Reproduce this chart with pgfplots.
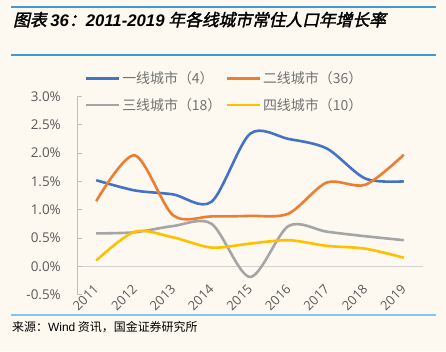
\documentclass[border=0pt]{standalone}
\usepackage{fontspec}
\usepackage{pgfplots}
\pgfplotsset{compat=1.18}
\setmainfont{Open Sans}
\newfontfamily\cjk{Noto Sans CJK SC}
\newfontfamily\cjkbi{Noto Sans CJK SC}[FakeSlant=0.22,FakeBold=2]
\newfontfamily\lib{Liberation Sans}
\definecolor{bg}{RGB}{253,249,240}
\definecolor{c1}{RGB}{68,114,196}
\definecolor{c2}{RGB}{237,125,49}
\definecolor{c3}{RGB}{165,165,165}
\definecolor{c4}{RGB}{255,192,0}
\definecolor{rulec}{RGB}{60,155,210}
\definecolor{rulel}{RGB}{130,200,235}
\definecolor{tickc}{RGB}{89,89,89}
\begin{document}
\begin{tikzpicture}[x=1bp,y=1bp]
\fill[bg] (0,0) rectangle (446,351);
\useasboundingbox (0,0) rectangle (446,351);
\draw[rulec, line width=1.2bp] (11,344) -- (436,344);
\draw[rulec, line width=1.2bp] (11,296) -- (436,296);
\draw[rulel, line width=1.5bp] (11,36) -- (436,36);
\node[anchor=base west, inner sep=0] at (13,325) {\fontsize{16.8}{19}\selectfont\cjkbi 图表 {\lib\bfseries\itshape 36}：{\lib\bfseries\itshape 2011-2019} 年各线城市常住人口年增长率};
\node[anchor=base west, inner sep=0] at (12,20) {\fontsize{12}{14}\selectfont\cjk 来源：{\lib Wind} 资讯，国金证券研究所};
\begin{axis}[
  scale only axis, width=346bp, height=198bp,
  at={(77bp,56.5bp)}, anchor=south west,
  xmin=-0.5, xmax=8.5, ymin=-0.5, ymax=3,
  axis lines*=left,
  x axis line style={draw=none},
  y axis line style={draw=black!25, line width=0.8bp},
  xtick={0,...,8},
  xticklabels={2011,2012,2013,2014,2015,2016,2017,2018,2019},
  major x tick style={draw=none},
  ytick={-0.5,0,...,3},
  yticklabel={\pgfmathprintnumber[fixed,fixed zerofill,precision=1]{\tick}\%},
  /pgf/number format/assume math mode=true,
  tick align=inside, major tick length=5bp,
  major y tick style={draw=black!25, line width=0.8bp},
  ticklabel style={font=\fontsize{13.5}{16}\selectfont, text=tickc, inner sep=0pt},
  yticklabel style={xshift=-16bp},
  xticklabel style={font=\fontsize{13}{15}\selectfont, yshift=7.5bp, rotate=45, anchor=east},
  extra y ticks={0}, extra y tick labels={},
  extra y tick style={grid=major, major grid style={draw=black!18, line width=1bp}},
  legend columns=2,
  legend cell align=left,
  legend image code/.code={\draw[#1, line width=2.6bp] (0bp,0bp) -- (33bp,0bp);},
  legend style={draw=none, fill=none, inner sep=0pt,
    at={(axis description cs:0.023,1.134)}, anchor=north west,
    font=\cjk\fontsize{14}{16}\selectfont, text=tickc!85,
    nodes={inner sep=1.5bp},
    column sep=0pt, row sep=10bp,
    /tikz/every even column/.append style={column sep=3bp}},
  every axis plot/.append style={line width=2.6bp, smooth, tension=0.5, mark=none},
]
\addplot[c1] coordinates {(0,1.52) (1,1.34) (2,1.27) (3,1.14) (4,2.34) (5,2.25) (6,2.08) (7,1.55) (8,1.50)};
\addlegendentry{一线城市（4）}
\addplot[c2] coordinates {(0,1.15) (1,1.96) (2,0.90) (3,0.88) (4,0.89) (5,0.93) (6,1.48) (7,1.44) (8,1.97)};
\addlegendentry{二线城市（36）}
\addplot[c3] coordinates {(0,0.58) (1,0.60) (2,0.71) (3,0.75) (4,-0.19) (5,0.71) (6,0.61) (7,0.53) (8,0.46)};
\addlegendentry{三线城市（18）}
\addplot[c4] coordinates {(0,0.10) (1,0.61) (2,0.51) (3,0.33) (4,0.40) (5,0.46) (6,0.36) (7,0.31) (8,0.15)};
\addlegendentry{四线城市（10）}
\end{axis}
\end{tikzpicture}
\end{document}
